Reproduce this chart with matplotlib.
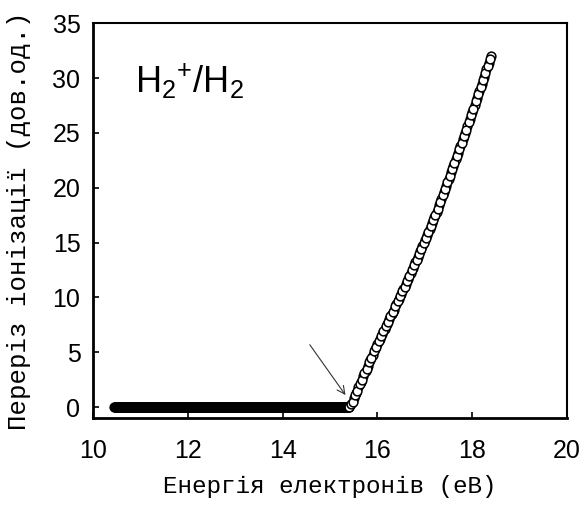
import numpy as np
import matplotlib.pyplot as plt

plt.rcParams['mathtext.fontset'] = 'custom'
plt.rcParams['mathtext.rm'] = 'Liberation Sans'

# below threshold: signal is flat at zero
x_flat = np.round(np.arange(10.45, 15.41, 0.01), 3)
y_flat = np.zeros(len(x_flat))

# above threshold, scan 1
x_rise = np.round(np.arange(15.45, 18.41, 0.05), 3)
y_rise = [0.3, 0.8, 1.3, 1.8, 2.3, 2.8, 3.3, 3.8, 4.3, 4.8,
          5.3, 5.8, 6.2, 6.7, 7.1, 7.6, 8.0, 8.5, 8.9, 9.4,
          9.9, 10.3, 10.8, 11.2, 11.7, 12.2, 12.7, 13.2, 13.7, 14.2,
          14.7, 15.2, 15.7, 16.2, 16.8, 17.3, 17.8, 18.4, 19.0, 19.6,
          20.2, 20.8, 21.4, 22.0, 22.6, 23.2, 23.8, 24.4, 25.0, 25.6,
          26.3, 26.9, 27.5, 28.2, 28.8, 29.5, 30.1, 30.8, 31.4, 32.0]

# scan 2, shifted half a step
x_rise2 = np.round(np.arange(15.475, 18.38, 0.05), 3)
y_rise2 = [0.5, 1.1, 1.5, 2.1, 2.5, 3.1, 3.5, 4.1, 4.5, 5.1,
           5.5, 6.0, 6.5, 6.9, 7.4, 7.8, 8.3, 8.7, 9.2, 9.7,
           10.1, 10.6, 11.0, 11.5, 12.0, 12.5, 13.0, 13.4, 14.0, 14.4,
           15.0, 15.4, 16.0, 16.5, 17.1, 17.5, 18.1, 18.7, 19.3, 19.9,
           20.5, 21.1, 21.7, 22.3, 22.9, 23.5, 24.1, 24.7, 25.3, 26.0,
           26.6, 27.2, 27.9, 28.5, 29.2, 29.8, 30.5, 31.1, 31.7]

threshold = (15.36, 0.9)
arrow_from = (14.54, 5.9)

fig = plt.figure(figsize=(5.81, 5.15), dpi=100)
ax = fig.add_axes([0.160, 0.188, 0.816, 0.767])

mk = dict(linestyle='none', marker='o', markersize=6.3, markerfacecolor='white',
          markeredgecolor='black', markeredgewidth=1.1)
ax.plot(x_flat, y_flat, **mk)
ax.plot(x_rise, y_rise, **mk)
ax.plot(x_rise2, y_rise2, **mk)

ax.annotate('', xy=threshold, xytext=arrow_from,
            arrowprops=dict(arrowstyle='->', color='#333333', lw=0.8,
                            mutation_scale=14))

ax.text(10.88, 28.7, r'$\mathrm{H_2{}^{+}/H_2}$', fontsize=26, va='baseline')

ax.set_xlim(10, 20)
ax.set_ylim(-1, 35)
ax.set_xticks([10, 12, 14, 16, 18, 20])
ax.set_yticks([0, 5, 10, 15, 20, 25, 30, 35])
ax.tick_params(direction='in', length=4, width=1.2, labelsize=18)
ax.tick_params(axis='x', pad=15)
ax.tick_params(axis='y', pad=9)
for lab in ax.get_xticklabels() + ax.get_yticklabels():
    lab.set_family(['Liberation Sans Narrow', 'Liberation Sans'])
for side in ['left', 'bottom']:
    ax.spines[side].set_linewidth(2)
for side in ['top', 'right']:
    ax.spines[side].set_linewidth(1.5)

ax.set_xlabel('Енергія електронів (еВ)', fontsize=17.5, family='Liberation Mono')
ax.set_ylabel('Переріз іонізації (дов.од.)', fontsize=18.5, family='Liberation Mono')
ax.xaxis.set_label_coords(0.5, -0.145)
ax.yaxis.set_label_coords(-0.13, 0.5)

fig.savefig('out.png', dpi=100)
